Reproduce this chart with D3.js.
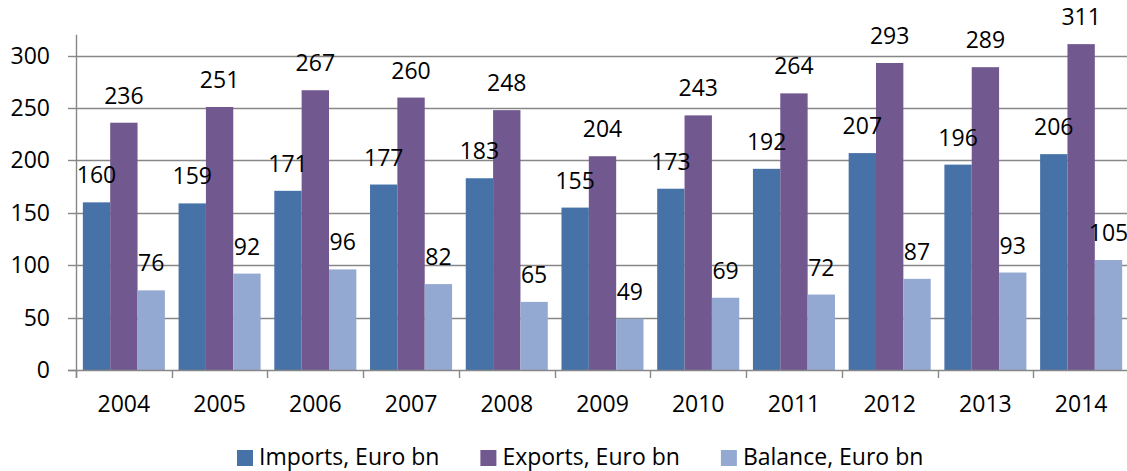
<!DOCTYPE html>
<html>
<head>
<meta charset="utf-8">
<script src="https://cdn.jsdelivr.net/npm/d3@7"></script>
<style>
  html, body { margin: 0; padding: 0; background: #fff; }
  svg { display: block; font-family: "Open Sans", sans-serif; }
</style>
</head>
<body>
<svg id="chart" width="1127" height="471"></svg>
<script>
const years = ["2004","2005","2006","2007","2008","2009","2010","2011","2012","2013","2014"];
const imports = [160,159,171,177,183,155,173,192,207,196,206];
const exports = [236,251,267,260,248,204,243,264,293,289,311];
const balance = [76,92,96,82,65,49,69,72,87,93,105];
const seriesNames = ["Imports, Euro bn","Exports, Euro bn","Balance, Euro bn"];
const seriesColors = ["#4672A8","#71588F","#94A9D1"];
const yTicks = [0,50,100,150,200,250,300];

const seriesData = [imports, exports, balance];
const svg = d3.select("#chart");
const fontSize = 23;

const x = d3.scaleBand().domain(years).range([76, 1129]).paddingInner(0.143).paddingOuter(0.0715);
const xs = d3.scaleBand().domain(seriesNames).range([0, x.bandwidth()]);
const y = d3.scaleLinear().domain([0, 320]).range([370, 34.7]);

const gridColor = "#878787";

// gridlines
svg.append("g").selectAll("line").data(yTicks.filter(d => d > 0)).join("line")
  .attr("x1", 76).attr("x2", 1127)
  .attr("y1", d => Math.round(y(d)) + 0.5).attr("y2", d => Math.round(y(d)) + 0.5)
  .attr("stroke", gridColor).attr("stroke-width", 1.4);

// bars
const groups = svg.append("g").selectAll("g").data(years).join("g")
  .attr("transform", d => `translate(${x(d)},0)`);
groups.selectAll("rect").data((d, i) => seriesNames.map((s, k) => ({s, k, v: seriesData[k][i]})))
  .join("rect")
  .attr("x", d => xs(d.s)).attr("width", xs.bandwidth())
  .attr("y", d => y(d.v)).attr("height", d => y(0) - y(d.v))
  .attr("fill", d => seriesColors[d.k]);

// value labels
groups.selectAll("text").data((d, i) => seriesNames.map((s, k) => ({s, k, v: seriesData[k][i]})))
  .join("text")
  .attr("x", d => xs(d.s) + xs.bandwidth() / 2)
  .attr("y", d => y(d.v) - 19)
  .attr("text-anchor", "middle")
  .attr("font-size", fontSize).attr("fill", "#000")
  .text(d => d.v);

// y axis
const yAxis = svg.append("g");
yAxis.append("line").attr("x1", 76.5).attr("x2", 76.5).attr("y1", y(320)).attr("y2", 378)
  .attr("stroke", gridColor).attr("stroke-width", 1.4);
yAxis.selectAll("line.tick").data(yTicks).join("line").attr("class", "tick")
  .attr("x1", 68).attr("x2", 76)
  .attr("y1", d => Math.round(y(d)) + 0.5).attr("y2", d => Math.round(y(d)) + 0.5)
  .attr("stroke", gridColor).attr("stroke-width", 1.4);
yAxis.selectAll("text").data(yTicks).join("text")
  .attr("x", 50).attr("y", d => y(d))
  .attr("dy", "0.35em")
  .attr("text-anchor", "end")
  .attr("font-size", fontSize).attr("fill", "#000")
  .text(d => d);

// x axis
const xAxis = svg.append("g");
xAxis.append("line").attr("x1", 68).attr("x2", 1127)
  .attr("y1", Math.round(y(0)) + 0.5).attr("y2", Math.round(y(0)) + 0.5)
  .attr("stroke", gridColor).attr("stroke-width", 1.4);
const boundaries = d3.range(years.length + 1).map(i => x.range()[0] + i * x.step());
xAxis.selectAll("line.tick").data(boundaries).join("line").attr("class", "tick")
  .attr("x1", d => Math.round(d) + 0.5).attr("x2", d => Math.round(d) + 0.5)
  .attr("y1", y(0)).attr("y2", 378)
  .attr("stroke", gridColor).attr("stroke-width", 1.4);
xAxis.selectAll("text").data(years).join("text")
  .attr("x", d => x(d) + x.bandwidth() / 2)
  .attr("y", 412)
  .attr("text-anchor", "middle")
  .attr("font-size", fontSize).attr("fill", "#000")
  .text(d => d);

// legend
const legend = svg.append("g");
let lx = 237;
seriesNames.forEach((s, k) => {
  legend.append("rect").attr("x", lx).attr("y", 450).attr("width", 16).attr("height", 16)
    .attr("fill", seriesColors[k]);
  const t = legend.append("text").attr("x", lx + 22).attr("y", 465)
    .attr("font-size", fontSize).attr("fill", "#000").text(s);
  lx += 22 + t.node().getComputedTextLength() + 41;
});
</script>
</body>
</html>
